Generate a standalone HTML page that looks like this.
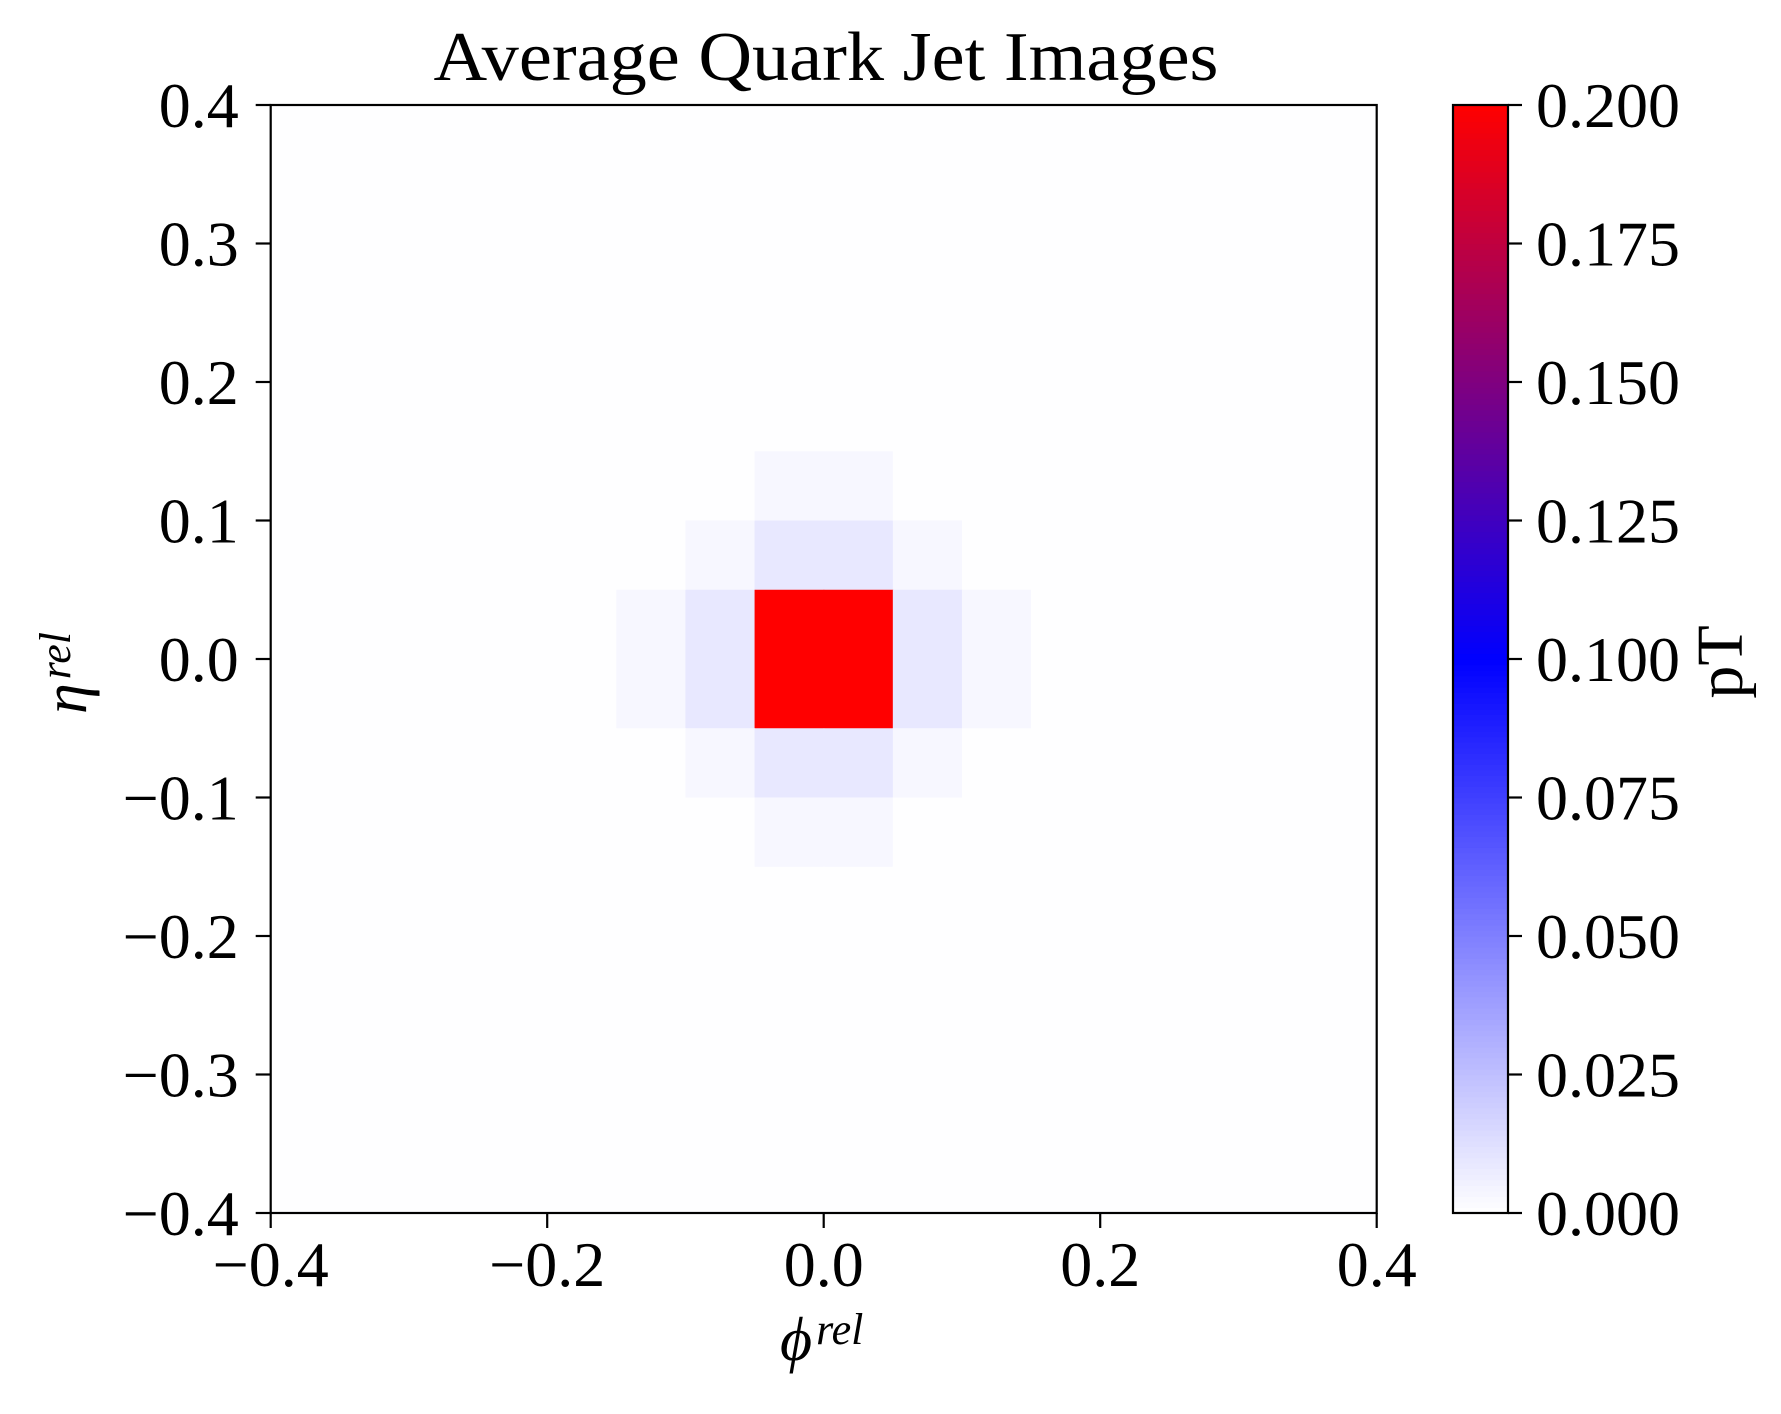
<!DOCTYPE html>
<html><head><meta charset="utf-8"><style>
html,body{margin:0;padding:0;background:#fff}
svg{display:block;font-family:"Liberation Serif","DejaVu Serif",serif}
</style></head><body>
<svg id="chart" width="1781" height="1414" viewBox="0 0 1781 1414">
<text x="826" y="80" font-size="70" text-anchor="middle" textLength="785" lengthAdjust="spacingAndGlyphs">Average Quark Jet Images</text>
<g id="cells"></g>
<rect x="270.7" y="105" width="1106" height="1108" fill="none" stroke="#000" stroke-width="2.2"/>
<g id="xticks"></g>
<g id="yticks"></g>
<text x="780" y="1360" font-size="62" font-style="italic">ϕ<tspan font-size="44" dy="-16" dx="4">rel</tspan></text>
<text transform="translate(86,714) rotate(-90)" font-size="62" font-style="italic">η<tspan font-size="44" dy="-16" dx="4">rel</tspan></text>
<g id="cbar"></g>
<rect x="1453" y="105" width="55" height="1108" fill="none" stroke="#000" stroke-width="2.2"/>
<g id="cticks"></g>
<text transform="translate(1742,662) rotate(-90)" font-size="66" text-anchor="middle">pT</text>
</svg>
<script>
const xTicks=[-0.4,-0.2,0.0,0.2,0.4];
const xTickLabels=["−0.4","−0.2","0.0","0.2","0.4"];
const yTicks=[0.4,0.3,0.2,0.1,0.0,-0.1,-0.2,-0.3,-0.4];
const yTickLabels=["0.4","0.3","0.2","0.1","0.0","−0.1","−0.2","−0.3","−0.4"];
const cTicks=[0,0.025,0.05,0.075,0.1,0.125,0.15,0.175,0.2];
const cTickLabels=["0.000","0.025","0.050","0.075","0.100","0.125","0.150","0.175","0.200"];
const binEdgesStart=-0.4, binWidth=0.05;
const bg=0.0002, p=0.003, L=0.009, R=0.25;
const pixelValues=[
[bg,bg,bg,bg,bg,bg,bg,bg,bg,bg,bg,bg,bg,bg,bg,bg],
[bg,bg,bg,bg,bg,bg,bg,bg,bg,bg,bg,bg,bg,bg,bg,bg],
[bg,bg,bg,bg,bg,bg,bg,bg,bg,bg,bg,bg,bg,bg,bg,bg],
[bg,bg,bg,bg,bg,bg,bg,bg,bg,bg,bg,bg,bg,bg,bg,bg],
[bg,bg,bg,bg,bg,bg,bg,bg,bg,bg,bg,bg,bg,bg,bg,bg],
[bg,bg,bg,bg,bg,bg,bg,p,p,bg,bg,bg,bg,bg,bg,bg],
[bg,bg,bg,bg,bg,bg,p,L,L,p,bg,bg,bg,bg,bg,bg],
[bg,bg,bg,bg,bg,p,L,R,R,L,p,bg,bg,bg,bg,bg],
[bg,bg,bg,bg,bg,p,L,R,R,L,p,bg,bg,bg,bg,bg],
[bg,bg,bg,bg,bg,bg,p,L,L,p,bg,bg,bg,bg,bg,bg],
[bg,bg,bg,bg,bg,bg,bg,p,p,bg,bg,bg,bg,bg,bg,bg],
[bg,bg,bg,bg,bg,bg,bg,bg,bg,bg,bg,bg,bg,bg,bg,bg],
[bg,bg,bg,bg,bg,bg,bg,bg,bg,bg,bg,bg,bg,bg,bg,bg],
[bg,bg,bg,bg,bg,bg,bg,bg,bg,bg,bg,bg,bg,bg,bg,bg],
[bg,bg,bg,bg,bg,bg,bg,bg,bg,bg,bg,bg,bg,bg,bg,bg],
[bg,bg,bg,bg,bg,bg,bg,bg,bg,bg,bg,bg,bg,bg,bg,bg]
];
const NS="http://www.w3.org/2000/svg";
const X0=270.7,X1=1376.7,Y0=105,Y1=1213;
const xs=v=>X0+(v+0.4)/0.8*(X1-X0);
const ys=v=>Y1-(v+0.4)/0.8*(Y1-Y0);
const cs=v=>Y1-v/0.2*(Y1-Y0);
function cmap(v){let t=Math.max(0,Math.min(1,v/0.2));let r,g,b;
 if(t<0.5){r=g=Math.round((1-2*t)*255);b=255;}else{r=Math.round((2*t-1)*255);g=0;b=Math.round((2-2*t)*255);}
 return `rgb(${r},${g},${b})`;}
function mk(tag,attrs,parent){const e=document.createElementNS(NS,tag);for(const k in attrs)e.setAttribute(k,attrs[k]);parent.appendChild(e);return e;}
const cells=document.getElementById('cells');
const n=pixelValues.length;
pixelValues.forEach((row,ri)=>{row.forEach((v,ci)=>{
 const x0=binEdgesStart+ci*binWidth, yTop=binEdgesStart+(n-ri)*binWidth;
 const r=mk('rect',{x:xs(x0),y:ys(yTop),width:xs(x0+binWidth)-xs(x0)+0.5,height:ys(yTop-binWidth)-ys(yTop)+0.5,fill:cmap(v)},cells);
 
 
});});
const xg=document.getElementById('xticks');
xTicks.forEach((v,i)=>{
 const l=mk('line',{x1:xs(v),x2:xs(v),y1:Y1,y2:Y1+15,stroke:'#000','stroke-width':2.2},xg);
 
 
 const t=mk('text',{x:xs(v),y:Y1+73,'font-size':64,'text-anchor':'middle'},xg);t.textContent=xTickLabels[i];
 
 
});
const yg=document.getElementById('yticks');
yTicks.forEach((v,i)=>{
 const l=mk('line',{x1:X0-15,x2:X0,y1:ys(v),y2:ys(v),stroke:'#000','stroke-width':2.2},yg);
 
 
 const t=mk('text',{x:X0-32,y:ys(v)+22,'font-size':64,'text-anchor':'end'},yg);t.textContent=yTickLabels[i];
 
 
});
const cb=document.getElementById('cbar');
const steps=200;
for(let k=0;k<steps;k++){const v0=0.2*k/steps,v1=0.2*(k+1)/steps;
 const r=mk('rect',{x:1453,y:cs(v1),width:55,height:cs(v0)-cs(v1)+0.6,fill:cmap((v0+v1)/2)},cb);
 
 
}
const cg=document.getElementById('cticks');
cTicks.forEach((v,i)=>{
 const l=mk('line',{x1:1508,x2:1522,y1:cs(v),y2:cs(v),stroke:'#000','stroke-width':2.2},cg);
 
 
 const t=mk('text',{x:1536,y:cs(v)+22,'font-size':64},cg);t.textContent=cTickLabels[i];
 
 
});
</script>
</body></html>
